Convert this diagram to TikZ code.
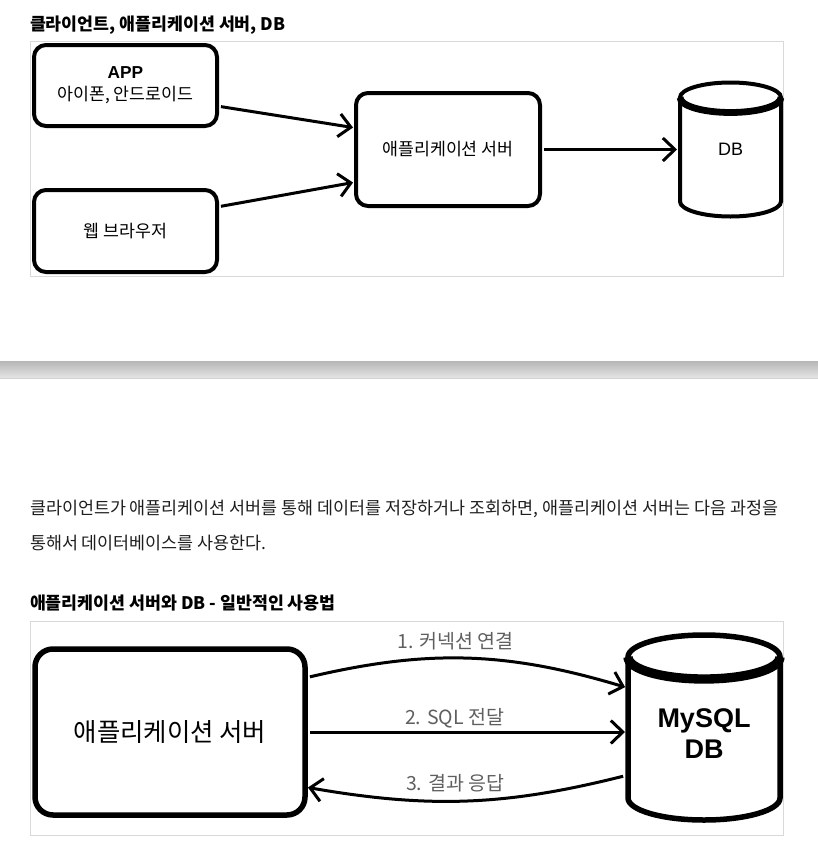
\documentclass[tikz,border=0pt]{standalone}
\usepackage{fontspec}
\setmainfont{Noto Sans CJK KR}
\newfontfamily\latinsans{Liberation Sans}
\usetikzlibrary{arrows.meta, positioning}

\definecolor{framegray}{RGB}{217,217,217}
\definecolor{labelgray}{RGB}{95,95,95}
\definecolor{textdark}{RGB}{30,30,30}
\definecolor{bartop}{RGB}{182,182,182}
\definecolor{barbottom}{RGB}{229,229,229}

% cylinder drawn round a named node: name, x radius, y radius, line width
\newcommand{\dbcyl}[4]{%
  \draw[line width=#4] ([yshift=-#3]#1.north west) -- ([yshift=#3]#1.south west)
    arc[start angle=180, end angle=360, x radius=#2, y radius=#3]
    -- ([yshift=-#3]#1.north east);
  \draw[line width=#4] ([yshift=-#3]#1.north) ellipse [x radius=#2, y radius=#3];
  \draw[line width=1.7*#4] ([yshift=-#3]#1.north west)
    arc[start angle=180, end angle=360, x radius=#2, y radius=#3];
}

\begin{document}
\begin{tikzpicture}[x=1pt, y=-1pt, line width=3pt,
  >={Straight Barb[length=12pt, width=23pt]},
  every node/.style={outer sep=0pt},
  heading/.style={anchor=west, inner sep=0pt, font=\bfseries\fontsize{17.3}{20}\selectfont},
  box/.style={draw, rounded corners=12pt, line width=4pt, inner sep=0pt, align=center,
    minimum width=183pt, font=\fontsize{17.3}{22}\selectfont},
  bigbox/.style={draw, rounded corners=18pt, line width=5.5pt, inner sep=0pt,
    minimum width=270pt, minimum height=166pt, font=\fontsize{25.4}{30}\selectfont},
  dbnode/.style={inner sep=0pt, align=center},
  flow/.style={->, line width=3pt, shorten <=4pt, shorten >=3pt},
  steplabel/.style={midway, above=4pt, xshift=-12pt, inner sep=0pt, text=labelgray,
    font=\fontsize{19.5}{22}\selectfont},
  frame/.style={draw=framegray, line width=1pt},
  ]
  \useasboundingbox (0,0) rectangle (818,849);

  % first picture
  \node[heading] (title1) at (30,25) {클라이언트, 애플리케이션 서버, DB};
  \draw[frame] (30,41) rectangle (783,276);

  \node[box, minimum height=81pt] (app) at (125.5,85.5) {{\latinsans\bfseries APP}\\아이폰, 안드로이드};
  \node[box, minimum height=82pt, below=64pt of app] (web) {웹 브라우저};
  \node[box, minimum width=184pt, minimum height=113pt] (srv) at (448,149.5) {애플리케이션 서버};
  \node[dbnode, minimum width=101pt, minimum height=134pt, font=\latinsans\fontsize{18}{22}\selectfont,
    right=140pt of srv] (db) {DB};
  \dbcyl{db}{50.5pt}{15pt}{4pt}

  \draw[flow] ([yshift=-20.5pt]app.east) -- ([yshift=21.5pt]srv.west);
  \draw[flow] ([yshift=24pt]web.east) -- ([yshift=-32.5pt]srv.west);
  \draw[flow] (srv.east) -- (db.west);

  % page break bar
  \shade[top color=bartop, bottom color=barbottom] (0,361) rectangle (818,378);
  \draw[line width=1pt, gray!35] (0,378.5) -- (818,378.5);

  \node[anchor=west, inner sep=0pt, align=left, text=textdark, font=\fontsize{17.4}{35}\selectfont]
    (intro) at (30,525.5) {클라이언트가 애플리케이션 서버를 통해 데이터를 저장하거나 조회하면, 애플리케이션 서버는 다음 과정을\\통해서 데이터베이스를 사용한다.};

  % second picture
  \node[heading] (title2) at (30,603) {애플리케이션 서버와 DB - 일반적인 사용법};
  \draw[frame] (30,621) rectangle (783,835);

  \node[bigbox] (srv2) at (170,732) {애플리케이션 서버};
  \node[dbnode, minimum width=152pt, minimum height=185pt, right=323pt of srv2, yshift=4.5pt,
    label={[yshift=-6pt, font=\latinsans\bfseries\fontsize{27}{31}\selectfont, align=center]center:{MySQL\\DB}}] (db2) {};
  \dbcyl{db2}{76pt}{22pt}{5.5pt}

  \draw[flow, shorten <=5pt] ([yshift=54pt]srv2.east) to[bend left=15]
    node[steplabel, above=8pt] {1. 커넥션 연결} ([yshift=39.5pt]db2.west);
  \draw[flow, shorten <=5pt] (srv2.east) -- node[steplabel] {2. SQL 전달} (srv2.east -| db2.west);
  \draw[flow, shorten <=5pt] ([yshift=-47.5pt]db2.west) to[bend left=12]
    node[steplabel, above=9pt] {3. 결과 응답} ([yshift=-55pt]srv2.east);
\end{tikzpicture}
\end{document}
